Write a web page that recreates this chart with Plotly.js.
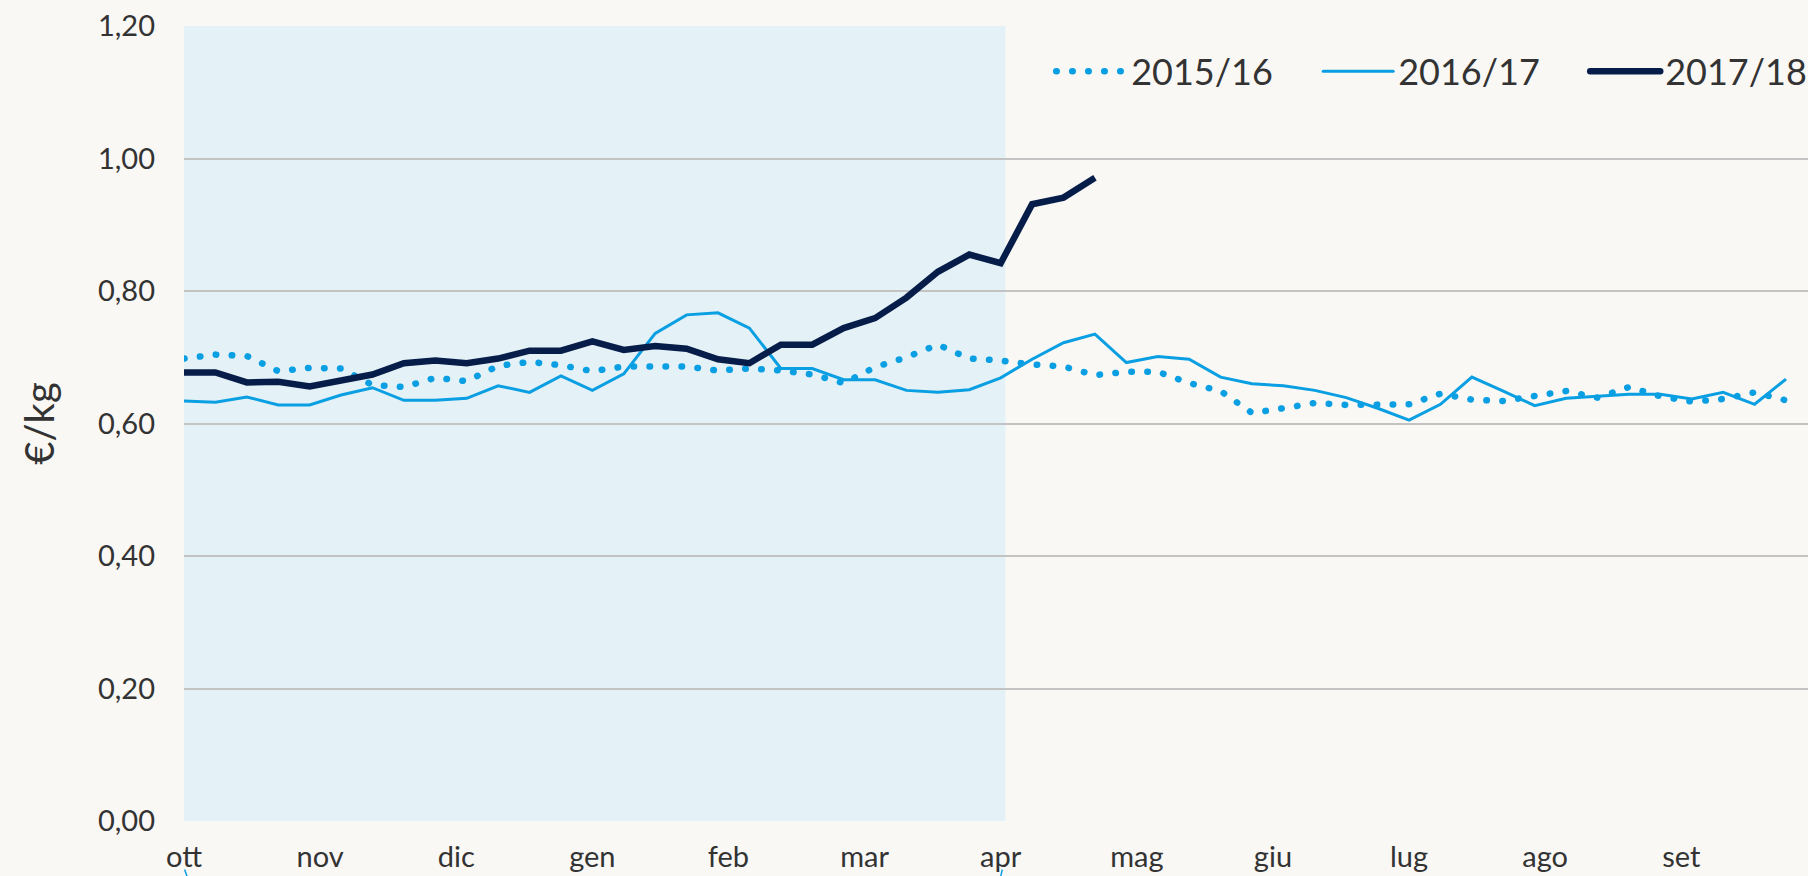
<!DOCTYPE html>
<html>
<head>
<meta charset="utf-8">
<script src="https://cdn.plot.ly/plotly-3.0.1.min.js"></script>
<style>
  html, body { margin: 0; padding: 0; background: #f9f8f5; }
  #chart { width: 1808px; height: 876px; }
</style>
</head>
<body>
<div id="chart"></div>
<script>
// Weekly prices (€/kg), week 0 = first week of October
const weeks = Array.from({length: 52}, (_, i) => i);

const s2015_16 = [
  0.698, 0.704, 0.702, 0.679, 0.684, 0.683, 0.658, 0.655, 0.669, 0.664,
  0.687, 0.693, 0.688, 0.679, 0.686, 0.686, 0.686, 0.680, 0.683, 0.680,
  0.674, 0.661, 0.685, 0.700, 0.719, 0.698, 0.695, 0.689, 0.686, 0.673,
  0.678, 0.678, 0.661, 0.649, 0.616, 0.623, 0.631, 0.628, 0.629, 0.629,
  0.645, 0.636, 0.634, 0.642, 0.649, 0.639, 0.655, 0.641, 0.633, 0.637,
  0.647, 0.635
];

const s2016_17 = [
  0.634, 0.632, 0.640, 0.628, 0.628, 0.643, 0.654, 0.635, 0.635, 0.638,
  0.657, 0.647, 0.672, 0.650, 0.675, 0.736, 0.764, 0.767, 0.744, 0.683,
  0.683, 0.666, 0.666, 0.650, 0.647, 0.651, 0.669, 0.697, 0.722, 0.735,
  0.692, 0.701, 0.697, 0.670, 0.660, 0.657, 0.650, 0.639, 0.623, 0.605,
  0.629, 0.670, 0.649, 0.627, 0.638, 0.641, 0.644, 0.644, 0.637, 0.647,
  0.629, 0.667
];

const s2017_18 = [
  0.677, 0.677, 0.662, 0.663, 0.656, 0.665, 0.674, 0.691, 0.695, 0.691,
  0.698, 0.710, 0.710, 0.724, 0.711, 0.717, 0.713, 0.697, 0.691, 0.719,
  0.719, 0.744, 0.759, 0.790, 0.829, 0.855, 0.842, 0.931, 0.941, 0.971
];

const monthLabels = ['ott','nov','dic','gen','feb','mar','apr','mag','giu','lug','ago','set'];
const monthTicks = monthLabels.map((_, i) => i * 52 / 12);
const yTicks = [0, 0.2, 0.4, 0.6, 0.8, 1.0, 1.2];
const yTickText = yTicks.map(v => v.toFixed(2).replace('.', ','));
const seriesNames = ['2015/16', '2016/17', '2017/18'];
const shadeEnd = 26.15;

const lightBlue = '#0a9fe2';
const navy = '#071d49';
const fontFamily = 'Lato, "Open Sans", sans-serif';

const traces = [
  {
    x: weeks.slice(0, s2015_16.length), y: s2015_16, name: seriesNames[0],
    type: 'scatter', mode: 'lines',
    line: {color: lightBlue, width: 6.5, dash: '0.5px,15.5px'}
  },
  {
    x: weeks.slice(0, s2016_17.length), y: s2016_17, name: seriesNames[1],
    type: 'scatter', mode: 'lines',
    line: {color: lightBlue, width: 3}
  },
  {
    x: weeks.slice(0, s2017_18.length), y: s2017_18, name: seriesNames[2],
    type: 'scatter', mode: 'lines',
    line: {color: navy, width: 6.5}
  }
];

const layout = {
  width: 1808, height: 876,
  paper_bgcolor: '#f9f8f5', plot_bgcolor: 'rgba(0,0,0,0)',
  margin: {l: 184, r: 0, t: 26, b: 55, autoexpand: false},
  font: {family: fontFamily, color: '#333333', size: 29},
  showlegend: true,
  legend: {
    orientation: 'h', x: 0.534, xanchor: 'left', y: 0.943, yanchor: 'middle',
    bgcolor: 'rgba(0,0,0,0)', font: {family: fontFamily, size: 36, color: '#333333'},
    itemwidth: 70, entrywidth: 182, traceorder: 'normal'
  },
  xaxis: {
    range: [0, 51.7], showgrid: false, zeroline: false, showline: false,
    tickmode: 'array', tickvals: monthTicks, ticktext: monthLabels,
    ticks: '', tickfont: {size: 29, color: '#333333'}, ticklabelstandoff: 16,
    fixedrange: true, automargin: false
  },
  yaxis: {
    range: [0, 1.2], showgrid: true, gridcolor: '#c3c3c3', gridwidth: 2,
    zeroline: false, showline: false,
    tickmode: 'array', tickvals: yTicks, ticktext: yTickText,
    ticks: '', tickfont: {size: 29, color: '#333333'}, ticklabelstandoff: 28,
    title: {text: '€/kg', font: {size: 40, color: '#333333'}, standoff: 30},
    fixedrange: true, automargin: false
  },
  shapes: [
    {type: 'rect', xref: 'x', yref: 'y', x0: 0, x1: shadeEnd, y0: 0, y1: 1.2,
     fillcolor: '#e4f1f6', line: {width: 0}, layer: 'below'},
    {type: 'line', xref: 'x', yref: 'paper', x0: 0.02, x1: 0.1, y0: -0.061, y1: -0.07,
     line: {color: lightBlue, width: 1.5}},
    {type: 'line', xref: 'x', yref: 'paper', x0: 26.05, x1: 26.0, y0: -0.061, y1: -0.07,
     line: {color: lightBlue, width: 1.5}}
  ]
};

Plotly.newPlot('chart', traces, layout, {staticPlot: true, displayModeBar: false}).then(gd => {
  const dotted = gd.querySelectorAll('.scatterlayer .trace')[0];
  if (dotted) dotted.querySelectorAll('path.js-line').forEach(p => p.style.strokeLinecap = 'round');
  gd.querySelectorAll('.legend .traces').forEach(t => t.querySelectorAll('path.js-line').forEach(p => {
    p.style.strokeLinecap = 'round';
  }));
});
</script>
</body>
</html>
